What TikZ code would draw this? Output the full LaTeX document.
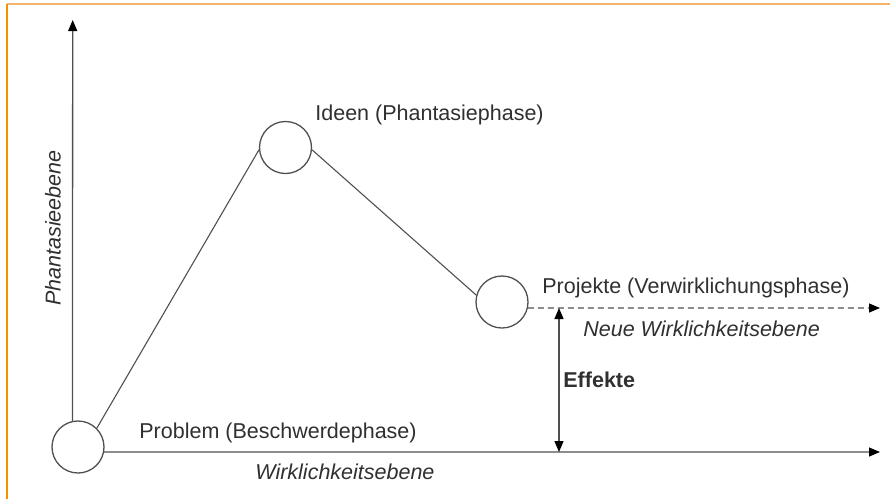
\documentclass[tikz,border=0pt]{standalone}
\usepackage{fontspec}
\setmainfont{Liberation Sans}
\usetikzlibrary{arrows.meta}
\definecolor{txt}{HTML}{303030}
\definecolor{ln}{HTML}{505050}
\definecolor{frameA}{HTML}{F39200}
\definecolor{frameB}{HTML}{F5B56A}
\begin{document}
\begin{tikzpicture}[x=0.5pt,y=-0.5pt,
  phase/.style={circle,draw=ln,line width=0.65pt,minimum size=26pt,inner sep=0pt},
  lbl/.style={text=txt,inner sep=0pt,font=\fontsize{10.75}{12}\selectfont},
  link/.style={draw=ln,line width=0.55pt},
  axis/.style={draw=ln,line width=0.65pt,-{Triangle[length=5.5pt,width=4.5pt,color=black,fill=black]}},
  both/.style={draw=ln,line width=0.65pt,{Triangle[length=5.5pt,width=4.5pt,color=black,fill=black]}-{Triangle[length=5.5pt,width=4.5pt,color=black,fill=black]}}]
\useasboundingbox (0,0) rectangle (890,499);
\fill[white] (0,0) rectangle (890,499);
% frame
\draw[frameB,line width=1pt] (6.5,4) -- (890,4);
\draw[frameA,line width=1pt] (6.5,4) -- (6.5,499);
% phases
\node[phase] (prob) at (78,447) {};
\node[phase] (idea) at (285.5,147.5) {};
\node[phase] (proj) at (502,302) {};
% axis ends
\coordinate (ytop) at (72.7,20);
\coordinate (xend) at (880,452);
\coordinate (dend) at (880,308);
\coordinate (effA) at (559,308);
\coordinate (effB) at (559,452);
% connectors
\draw[axis] (prob.102) -- (ytop);
\draw[axis] (prob.-11) -- (xend);
\draw[axis,dash pattern=on 3pt off 2pt] (proj.-13) -- (dend);
\draw[link] (prob.45) -- (idea.185);
\draw[link] (idea.355) -- (proj.165);
\draw[both] (effA) -- (effB);
% labels
\node[lbl,anchor=west] (lprob) at (139,433) {Problem (Beschwerdephase)};
\node[lbl,anchor=west,font=\fontsize{10.75}{12}\selectfont\itshape] (lwirk) at (255,472) {Wirklichkeitsebene};
\node[lbl,anchor=west] (lidea) at (315,115) {Ideen (Phantasiephase)};
\node[lbl,anchor=west] (lproj) at (542,288) {Projekte (Verwirklichungsphase)};
\node[lbl,anchor=west,font=\fontsize{10.75}{12}\selectfont\itshape] (lneue) at (583,329) {Neue Wirklichkeitsebene};
\node[lbl,anchor=west,font=\fontsize{10.75}{12}\selectfont\bfseries] (leff) at (563,380) {Effekte};
\node[lbl,rotate=90,font=\fontsize{10.75}{12}\selectfont\itshape] (lphan) at (53,228) {Phantasieebene};
\end{tikzpicture}
\end{document}
